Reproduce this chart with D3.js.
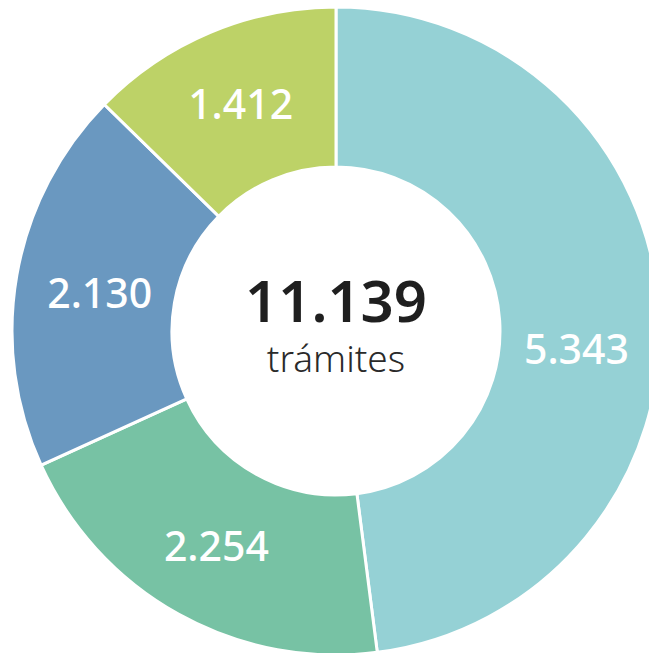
<!DOCTYPE html>
<html>
<head>
<meta charset="utf-8">
<script src="https://cdn.jsdelivr.net/npm/d3@7"></script>
<style>
  body { margin: 0; background: #fff; }
  text { font-family: "Noto Sans", "Open Sans", sans-serif; }
</style>
</head>
<body>
<div id="chart"></div>
<script>
// data
var categories = ["A", "B", "C", "D"];
var values = [5343, 2254, 2130, 1412];
var colors = ["#95d1d5", "#77c2a4", "#6a98c0", "#bdd267"];
var totalLabel = "11.139";
var totalUnit = "trámites";

var svgWidth = 649;
var svgHeight = 653;
var cx = 336, cy = 331;
var outerR = 324, innerR = 164;

var fmt = d3.formatLocale({decimal: ",", thousands: ".", grouping: [3], currency: ["", ""]}).format(",d");

var svg = d3.select("#chart")
  .append("svg")
  .attr("width", svgWidth)
  .attr("height", svgHeight);

var g = svg.append("g")
  .attr("transform", `translate(${cx}, ${cy})`);

var pie = d3.pie().sort(null).value(d => d.value);
var arc = d3.arc().innerRadius(innerR).outerRadius(outerR);
var labelArc = d3.arc().innerRadius(246).outerRadius(246);

var data = categories.map((c, i) => ({cat: c, value: values[i], color: colors[i]}));
var arcs = pie(data);

g.selectAll("path")
  .data(arcs)
  .enter()
  .append("path")
  .attr("d", arc)
  .attr("fill", d => d.data.color)
  .attr("stroke", "#fff")
  .attr("stroke-width", 3);

// first label sits a bit lower in the original
g.selectAll(".lbl")
  .data(arcs)
  .enter()
  .append("text")
  .attr("class", "lbl")
  .attr("x", d => labelArc.centroid(d)[0] - (d.index === 0 ? 5 : 0) + (d.index === 2 ? 6 : 0))
  .attr("y", d => labelArc.centroid(d)[1] + (d.index === 0 ? 34 : 0) + (d.index === 2 ? 5 : 0))
  .attr("dy", "0.36em")
  .attr("text-anchor", "middle")
  .attr("fill", "#fff")
  .attr("font-size", 41)
  .attr("font-weight", 500)
  .text(d => fmt(d.data.value));

g.append("text")
  .attr("y", -9)
  .attr("text-anchor", "middle")
  .attr("fill", "#1f1f1f")
  .attr("font-size", 58)
  .attr("font-weight", 600)
  .text(totalLabel);

g.append("text")
  .attr("y", 41)
  .attr("text-anchor", "middle")
  .attr("fill", "#2a2a2a")
  .attr("font-size", 37)
  .attr("font-weight", 300)
  .text(totalUnit);
</script>
</body>
</html>
